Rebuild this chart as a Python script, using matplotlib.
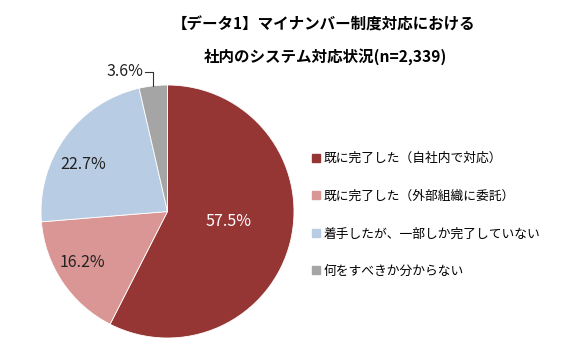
import numpy as np
import matplotlib.pyplot as plt

plt.rcParams['font.family'] = ['Noto Sans CJK JP', 'DejaVu Sans']

labels = ['既に完了した（自社内で対応）',
          '既に完了した（外部組織に委託）',
          '着手したが、一部しか完了していない',
          '何をすべきか分からない']
values = [57.5, 16.2, 22.7, 3.6]
colors = ['#963634', '#da9694', '#b8cce4', '#a5a5a5']
title1 = '【データ1】マイナンバー制度対応における'
title2 = '社内のシステム対応状況(n=2,339)'

# label positions (pie radius = 1)
lab_xy = [(0.486, -0.083), (-0.676, -0.407), (-0.668, 0.368), (-0.34, 1.103)]
lab_col = ['white', '#222222', '#222222', '#222222']

W, H = 568, 358
fig = plt.figure(figsize=(W/100, H/100), dpi=100)

cx, cy, r = 167.5, 211.5, 126.5
ax = fig.add_axes([(cx-r)/W, (H-cy-r)/H, 2*r/W, 2*r/H])

wedges, _ = ax.pie(values, colors=colors, startangle=90, counterclock=False,
                   radius=1, wedgeprops=dict(edgecolor='white', linewidth=0.6))
ax.set_xlim(-1, 1)
ax.set_ylim(-1, 1)
ax.set_aspect('auto')
ax.axis('off')

for v, (x, y), c in zip(values, lab_xy, lab_col):
    ax.text(x, y, '%.1f%%' % v, ha='center', va='center', fontsize=11.5,
            color=c, clip_on=False)

# leader line for the small slice
w = wedges[3]
th = np.deg2rad((w.theta1 + w.theta2) / 2)
ex, ey = np.cos(th), np.sin(th)
lx, ly = lab_xy[3]
ax.plot([lx + 0.16, ex, ex], [ly, ly, ey], color='#333333', lw=0.8, clip_on=False)

fig.text(324/W, 1-25/H, title1, ha='center', va='center', fontsize=11.2, fontweight='bold')
fig.text(325/W, 1-57/H, title2, ha='center', va='center', fontsize=11.2, fontweight='bold')

handles = [plt.Rectangle((0, 0), 1, 1, color=c) for c in colors]
fig.legend(handles, labels, loc='center left', bbox_to_anchor=(306/W, 1-215/H),
           frameon=False, fontsize=9.2, handlelength=0.6, handleheight=0.6,
           handletextpad=0.3, labelspacing=1.92, borderpad=0)

fig.savefig('out.png', dpi=100)
